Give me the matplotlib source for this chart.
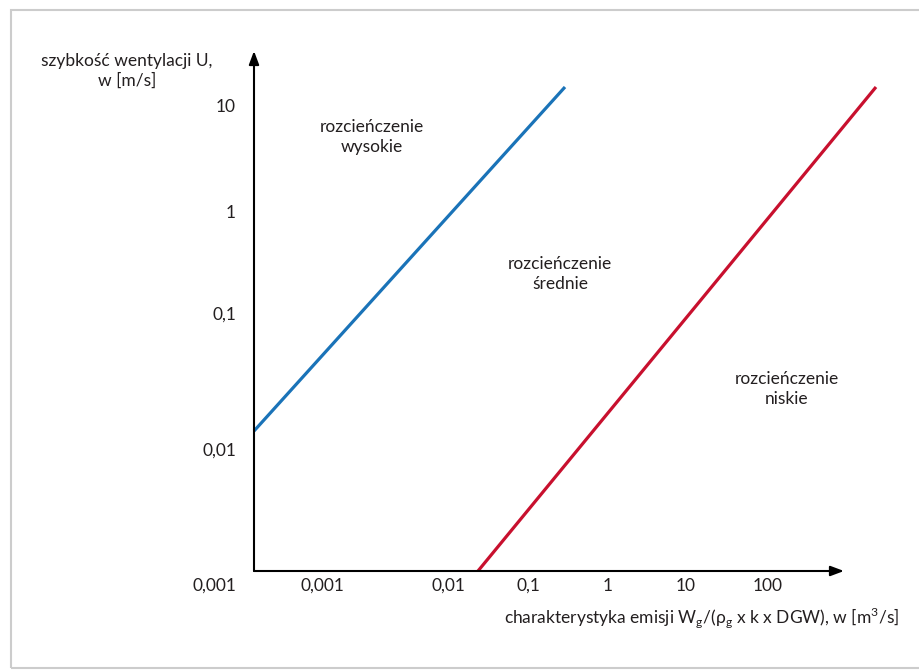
import matplotlib
matplotlib.use("Agg")
import matplotlib.pyplot as plt
from matplotlib.patches import Rectangle

plt.rcParams['font.family'] = ['Lato', 'DejaVu Sans']
plt.rcParams['mathtext.fontset'] = 'custom'
plt.rcParams['mathtext.rm'] = 'Lato'

# schematic axis: 1 unit ~ 100 px, positions of the (non-uniform) tick labels
x_ticks = [0.68, 1.94, 2.74, 3.54, 4.32, 5.14]
x_labels = ['0,001', '0,01', '0,1', '1', '10', '100']
y_ticks = [-0.13, 1.22, 2.58, 3.60, 4.66]
y_labels = ['0,001', '0,01', '0,1', '1', '10']

# boundary lines (start, end) in schematic units
blue_x = [0.0, 3.11]
blue_y = [1.40, 4.84]
red_x = [2.24, 6.22]
red_y = [0.0, 4.84]

# region annotations
regions = ['rozcieńczenie\nwysokie', 'rozcieńczenie\nśrednie', 'rozcieńczenie\nniskie']
reg_x = [1.18, 3.06, 5.33]
reg_y = [4.34, 2.97, 1.82]

txt = '#231f20'
fs = 12.5

fig = plt.figure(figsize=(9.19, 6.71), dpi=100)
# light grey frame around the figure
fig.patches.append(Rectangle((11 / 919, 3 / 671), 1.0, 658 / 671, transform=fig.transFigure,
                             fill=False, edgecolor='#cccccc', linewidth=1.5))

# axes box reaches 13 px below the origin so the "0,001" label on y fits in the view
ax = fig.add_axes([254 / 919, 87 / 671, 646 / 919, 544 / 671])
for s in ax.spines.values():
    s.set_visible(False)
ax.patch.set_alpha(0)

ax.plot(blue_x, blue_y, color='#1a73b8', lw=2.3, solid_capstyle='butt', clip_on=False)
ax.plot(red_x, red_y, color='#c8102e', lw=2.3, solid_capstyle='butt', clip_on=False)

ax.set_xticks(x_ticks, x_labels)
ax.set_yticks(y_ticks, y_labels)
ax.tick_params(axis='both', length=0, labelsize=fs, labelcolor=txt)
ax.tick_params(axis='x', pad=-4.4)   # box bottom is below the drawn x axis
ax.tick_params(axis='y', pad=13)
ax.set_xlim(0, 6.46)
ax.set_ylim(-0.13, 5.31)

# axes as arrows
ax.annotate('', xy=(5.9, 0), xytext=(0, 0),
            arrowprops=dict(arrowstyle='-|>,head_length=0.8,head_width=0.3', color='black', lw=1.5,
                            shrinkA=0, shrinkB=0), annotation_clip=False)
ax.annotate('', xy=(0, 5.2), xytext=(0, 0),
            arrowprops=dict(arrowstyle='-|>,head_length=0.8,head_width=0.3', color='black', lw=1.5,
                            shrinkA=0, shrinkB=0), annotation_clip=False)

for t, x, y in zip(regions, reg_x, reg_y):
    ax.text(x, y, t, ha='center', va='center', fontsize=fs, color=txt, linespacing=1.3)

fig.text(127 / 919, 1 - 71 / 671, 'szybkość wentylacji U,\nw [m/s]', ha='center', va='center',
         fontsize=fs, color=txt, linespacing=1.3)
fig.text(702 / 919, 1 - 617 / 671,
         r'charakterystyka emisji W$_\mathregular{g}$/(ρ$_\mathregular{g}$ x k x DGW), w [m$^\mathregular{3}$/s]',
         ha='center', va='center', fontsize=fs, color=txt)

fig.savefig('out.png', dpi=100)
